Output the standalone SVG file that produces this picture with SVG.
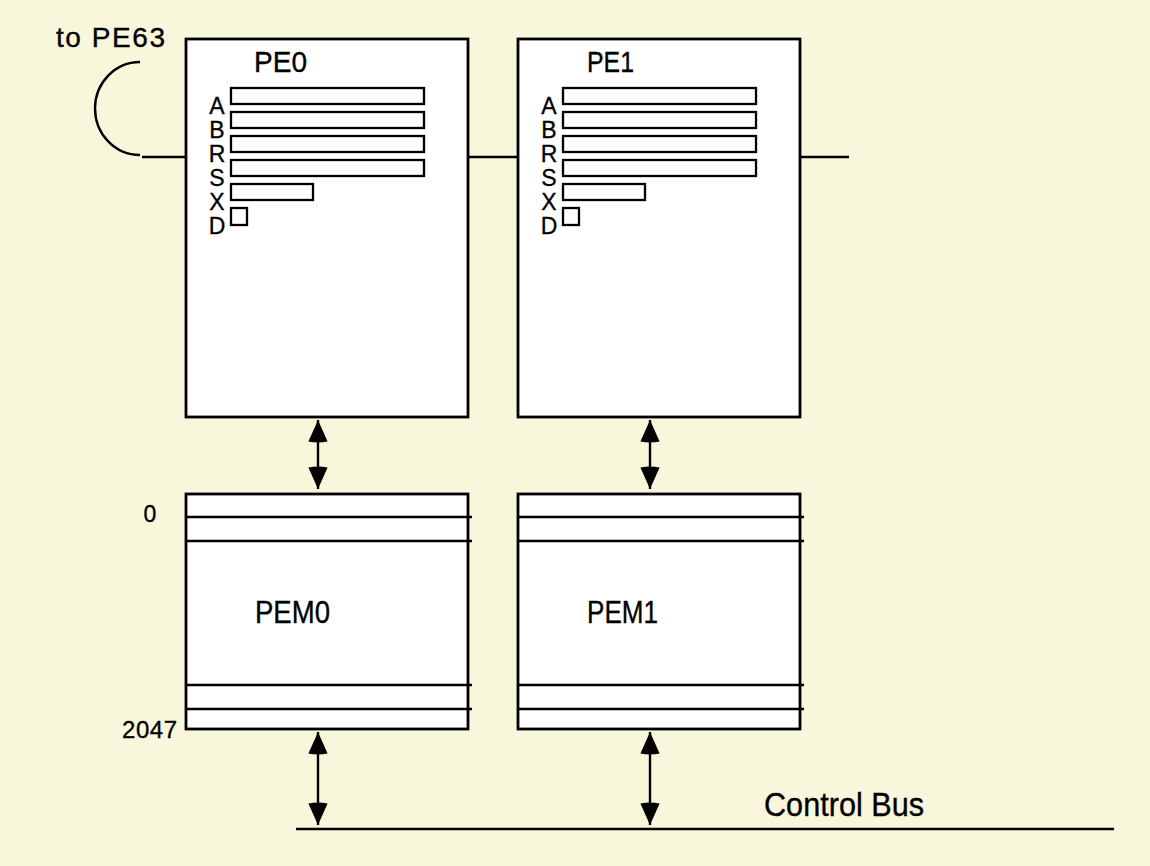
<svg xmlns="http://www.w3.org/2000/svg" width="1150" height="866" viewBox="0 0 1150 866">
<style>
.box{fill:#fff;stroke:#000;stroke-width:2.8}
.reg{fill:#fff;stroke:#000;stroke-width:2.3}
.ln{fill:none;stroke:#000;stroke-width:2.4}
.t{font-family:"Liberation Sans",Arial,sans-serif;fill:#000;stroke:#000;stroke-width:0.35}
.lbl{font-family:"Liberation Sans",Arial,sans-serif;font-size:23px;text-anchor:middle;fill:#000;stroke:#000;stroke-width:0.3}
</style>
<defs>
<marker id="ah" markerUnits="userSpaceOnUse" viewBox="0 0 24 20" markerWidth="24" markerHeight="20" refX="23" refY="10" orient="auto-start-reverse">
<path d="M23,10 L1.5,0.4 Q-0.5,10 1.5,19.6 Z" fill="#000"/>
</marker>
</defs>
<rect width="1150" height="866" fill="#F8F7DB"/>

<g id="connectors">
<path class="ln" d="M140,62 A45,46.5 0 0 0 140,155"/>
<path class="ln" d="M142,157 H186"/>
<path class="ln" d="M468,157 H518"/>
<path class="ln" d="M800,157 H849"/>
<path class="ln" d="M318,420 V489" marker-start="url(#ah)" marker-end="url(#ah)"/>
<path class="ln" d="M650,420 V489" marker-start="url(#ah)" marker-end="url(#ah)"/>
<path class="ln" d="M318,732 V825" marker-start="url(#ah)" marker-end="url(#ah)"/>
<path class="ln" d="M650,732 V825" marker-start="url(#ah)" marker-end="url(#ah)"/>
<path class="ln" d="M296,829 H1114"/>
</g>

<text class="t" x="56" y="47" font-size="28" textLength="109">to PE63</text>

<g id="PE0">
<rect class="box" x="186" y="39" width="282" height="378"/>
<text class="t" x="254" y="72" font-size="30" textLength="53" lengthAdjust="spacingAndGlyphs">PE0</text>
<rect class="reg" x="231" y="88" width="193" height="16"/>
<rect class="reg" x="231" y="112" width="193" height="16"/>
<rect class="reg" x="231" y="136" width="193" height="16"/>
<rect class="reg" x="231" y="160" width="193" height="16"/>
<rect class="reg" x="231" y="184" width="82" height="16"/>
<rect class="reg" x="231" y="208" width="16" height="17"/>
<text class="lbl" x="217" y="114">A</text>
<text class="lbl" x="217" y="138">B</text>
<text class="lbl" x="217" y="162">R</text>
<text class="lbl" x="217" y="186">S</text>
<text class="lbl" x="217" y="210">X</text>
<text class="lbl" x="217" y="234">D</text>
</g>

<g id="PE1">
<rect class="box" x="518" y="39" width="282" height="378"/>
<text class="t" x="587" y="72" font-size="30" textLength="47" lengthAdjust="spacingAndGlyphs">PE1</text>
<rect class="reg" x="563" y="88" width="193" height="16"/>
<rect class="reg" x="563" y="112" width="193" height="16"/>
<rect class="reg" x="563" y="136" width="193" height="16"/>
<rect class="reg" x="563" y="160" width="193" height="16"/>
<rect class="reg" x="563" y="184" width="82" height="16"/>
<rect class="reg" x="563" y="208" width="16" height="17"/>
<text class="lbl" x="549" y="114">A</text>
<text class="lbl" x="549" y="138">B</text>
<text class="lbl" x="549" y="162">R</text>
<text class="lbl" x="549" y="186">S</text>
<text class="lbl" x="549" y="210">X</text>
<text class="lbl" x="549" y="234">D</text>
</g>

<g id="PEM0">
<rect class="box" x="186" y="494" width="282" height="235"/>
<path class="ln" d="M186,517 H472 M186,541 H472 M186,685 H472 M186,709 H472"/>
<text class="t" x="255" y="623" font-size="31" textLength="75" lengthAdjust="spacingAndGlyphs">PEM0</text>
<text class="t" x="150" y="522" font-size="23" text-anchor="middle">0</text>
<text class="t" x="122" y="738" font-size="24" textLength="55">2047</text>
</g>

<g id="PEM1">
<rect class="box" x="518" y="494" width="282" height="235"/>
<path class="ln" d="M518,517 H804 M518,541 H804 M518,685 H804 M518,709 H804"/>
<text class="t" x="587" y="623" font-size="31" textLength="71" lengthAdjust="spacingAndGlyphs">PEM1</text>
</g>

<text class="t" x="764" y="816" font-size="33" textLength="160" lengthAdjust="spacingAndGlyphs">Control Bus</text>
</svg>
